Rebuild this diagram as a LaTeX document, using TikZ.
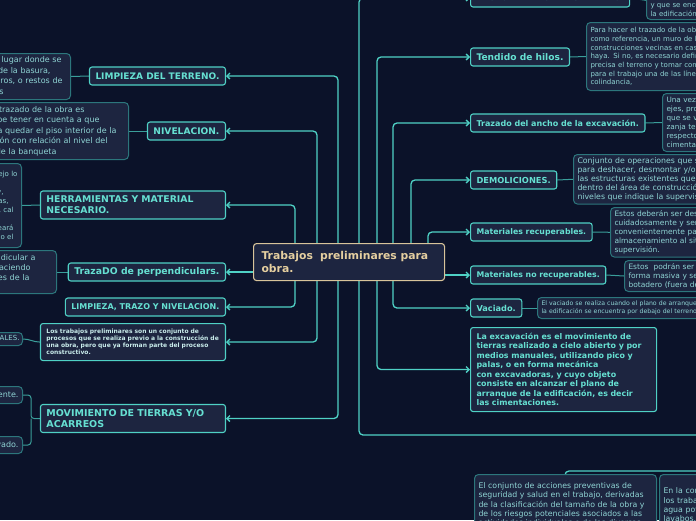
\documentclass[tikz,border=0pt]{standalone}
\usepackage{fontspec}
\setmainfont{DejaVu Sans}
\usetikzlibrary{arrows.meta}
\definecolor{bgc}{RGB}{11,18,41}
\definecolor{nodeF}{RGB}{29,37,64}
\definecolor{tealB}{RGB}{79,209,197}
\definecolor{tealT}{RGB}{102,224,210}
\definecolor{tealD}{RGB}{44,118,124}
\definecolor{tealC}{RGB}{58,158,154}
\definecolor{descT}{RGB}{143,212,212}
\definecolor{paleT}{RGB}{201,236,235}
\definecolor{centB}{RGB}{216,196,154}
\definecolor{centT}{RGB}{229,207,160}
\newcommand{\RL}[2]{\makebox[#1pt][r]{#2}}
\newcommand{\fsz}[2]{\fontsize{#1}{#2}\selectfont}
\pgfdeclarelayer{bgl}
\pgfdeclarelayer{back}
\pgfsetlayers{bgl,back,main}
\begin{document}
\begin{tikzpicture}[x=1pt,y=-1pt,
  main/.style={draw=tealB, fill=nodeF, rounded corners=2.5pt, line width=1.1pt, text=tealT,
    font=\bfseries\fsz{8}{10}, inner xsep=6pt, inner ysep=2pt, minimum height=18pt, align=left},
  desc/.style={draw=tealD, fill=nodeF, rounded corners=4pt, line width=1pt, text=descT,
    font=\fsz{7}{9}, inner xsep=4pt, inner ysep=3pt, align=left},
  cent/.style={draw=centB, fill=nodeF, rounded corners=3pt, line width=1.1pt, text=centT,
    font=\bfseries\fsz{10.8}{13.5}, inner xsep=8pt, align=left},
  conn/.style={draw=tealB, line width=1.3pt, rounded corners=4pt, -{Straight Barb[length=3pt,width=6pt]}},
  dconn/.style={draw=tealC, line width=1pt, rounded corners=3pt}]
\begin{pgfonlayer}{bgl}
\fill[bgc] (0,0) rectangle (696,520);
\end{pgfonlayer}
\useasboundingbox (0,0) rectangle (696,520);
\clip (0,0) rectangle (696,520);

% central node
\node[cent, anchor=north west, text width=175pt, minimum height=37pt, minimum width=191pt] (c) at (253,243)
  {Trabajos~ preliminares para\\obra.};

% left main nodes
\node[main, anchor=east, font=\bfseries\fsz{9}{11}] (n1) at (226,76) {LIMPIEZA DEL TERRENO.};
\node[main, anchor=east, font=\bfseries\fsz{9.1}{11}] (n2) at (226,131) {NIVELACION.};
\node[main, anchor=east, text width=173pt, minimum height=28pt, font=\bfseries\fsz{9.3}{11}] (n3) at (226,205) {HERRAMIENTAS Y MATERIAL\\NECESARIO.};
\node[main, anchor=east, font=\bfseries\fsz{9.3}{11}] (n4) at (226,272) {TrazaDO de perpendiculars.};
\node[main, anchor=east] (n5) at (226,307) {LIMPIEZA, TRAZO Y NIVELACION.};
\node[main, anchor=north east, text width=173pt, minimum height=37pt, text=paleT,
  font=\bfseries\fsz{6}{7}] (n6) at (226,323)
  {Los trabajos preliminares son un conjunto de\\procesos que se realiza previo a la construcción de\\una obra, pero que ya forman parte del proceso\\constructivo.};
\node[main, anchor=east, text width=173pt, minimum height=28pt, font=\bfseries\fsz{9.5}{11}] (n7) at (226,418.5) {MOVIMIENTO DE TIERRAS Y/O\\ACARREOS};

% left descriptions
\node[desc, anchor=north east, text width=180pt, minimum height=46pt, font=\fsz{8}{10.5}] (d1) at (71,53)
  {\RL{175}{Se debe limpiar el lugar donde se}\\\RL{164}{construirá, retirándose de la basura,}\\\RL{176}{hierbas, escombros, o restos de}\\\RL{117}{construcciones viejas}};
\node[desc, anchor=north east, text width=200pt, minimum height=57pt, font=\fsz{8}{10.5}] (d2) at (129,102)
  {\RL{160}{Antes de iniciar el trazado de la obra es}\\\RL{175}{importante, se debe tener en cuenta a que}\\\RL{192}{nivel va a quedar el piso interior de la}\\\RL{183}{construcción con relación al nivel del}\\\RL{132}{arroyo o de la banqueta}};
\node[desc, anchor=north east, text width=160pt, minimum height=84pt] (d3) at (22,163)
  {\RL{160}{En cuanto a su manejo lo}\\\RL{137}{necesario será: palas, picos,}\\\RL{146}{carretillas, mazos, hilo, clavos y,}\\\RL{151}{estacas, crucetas, reglas,}\\\RL{156}{niveles, cinta, escuadras, cal}\\\RL{137}{y agua. Para el trazo}\\\RL{156}{también se empleará}\\\RL{156}{un teodolito o el}};
\node[desc, anchor=north east, text width=180pt, minimum height=43pt, font=\fsz{8}{10}] (d4) at (57,250)
  {\RL{163}{Se traza una línea perpendicular a}\\\RL{158}{la línea de referencia haciendo}\\\RL{157}{coincidir las intersecciones de la}\\\RL{117}{cuadrícula}};
\node[desc, anchor=east, minimum height=13pt, inner ysep=1pt, inner xsep=3pt] (d6) at (23,339) {TRABAJOS INICIALES.};
\node[desc, anchor=east, minimum height=17pt, inner xsep=4pt, font=\fsz{8}{10}] (d7a) at (23,395) {Acarreo de material excedente.};
\node[desc, anchor=east, minimum height=17pt, inner xsep=4pt, font=\fsz{8}{10}] (d7b) at (23,445) {Acarreo de material excavado.};

% right main nodes
\node[main, anchor=west] (r0) at (470,-2) {HECHURA DE PUENTES Y TRAZO.};
\node[main, anchor=west, font=\bfseries\fsz{9.1}{11}] (r1) at (470,57) {Tendido de hilos.};
\node[main, anchor=west] (r2) at (470,123) {Trazado del ancho de la excavación.};
\node[main, anchor=west, font=\bfseries\fsz{8.3}{10}] (r3) at (470,180) {DEMOLICIONES.};
\node[main, anchor=west, font=\bfseries\fsz{7.8}{10}] (r4) at (470,232) {Materiales recuperables.};
\node[main, anchor=west, font=\bfseries\fsz{7.8}{10}] (r5) at (470,275) {Materiales no recuperables.};
\node[main, anchor=west, font=\bfseries\fsz{8.2}{10}] (r6) at (470,308) {Vaciado.};
\node[main, anchor=north west, text width=174pt, minimum height=84pt,
  font=\bfseries\fsz{7.9}{9.5}] (r7) at (470,327)
  {La excavación es el movimiento de\\tierras realizado a cielo abierto y por\\medios manuales, utilizando pico y\\palas, o en forma mecánica\\con excavadoras, y cuyo objeto\\consiste en alcanzar el plano de\\arranque de la edificación, es decir\\las cimentaciones.};

% right descriptions
\node[desc, anchor=south west, text width=200pt] (e0) at (646,20)
  {Se construyen puentes de madera\\alrededor del área de la obra\\y que se encuentran fuera de\\la edificación.};
\node[desc, anchor=north west, text width=220pt, minimum height=68pt, font=\fsz{7}{8.7}] (e1) at (586,22)
  {Para hacer el trazado de la obra se toma\\como referencia, un muro de las\\construcciones vecinas en caso de que las\\haya. Si no, es necesario definir con\\precisa el terreno y tomar como base\\para el trabajo una de las líneas de\\colindancia,};
\node[desc, anchor=north west, text width=200pt, minimum height=58pt, font=\fsz{7.3}{9}] (e2) at (662,93)
  {Una vez trazados los\\ejes, procedemos a marcar\\que se va a excavar; la\\zanja tendrá un ancho\\respecto al eje de la\\cimentación.};
\node[desc, anchor=north west, text width=240pt, minimum height=49pt, font=\fsz{7.8}{9}] (e3) at (573,154)
  {Conjunto de operaciones que se realizan\\para deshacer, desmontar y/o demoler\\las estructuras existentes que se encuentren\\dentro del área de construcción, hasta los\\niveles que indique la supervisión.};
\node[desc, anchor=north west, text width=220pt, minimum height=48pt, font=\fsz{7.5}{9}] (e4) at (610,207)
  {Estos deberán ser desmontados\\cuidadosamente y serán trasladados\\convenientemente para su\\almacenamiento al sitio que indique la\\supervisión.};
\node[desc, anchor=north west, text width=220pt, minimum height=31pt, font=\fsz{7.5}{9}] (e5) at (624,260)
  {Estos~ podrán ser demolidos en\\forma masiva y serán llevados al\\botadero (fuera de la obra).};
\node[desc, anchor=north west, text width=240pt, minimum height=21pt, inner ysep=2pt, font=\fsz{6.2}{8.5}] (e6) at (537,297)
  {El vaciado se realiza cuando el plano de arranque de\\la edificación se encuentra por debajo del terreno.};

% bottom boxes
\node[desc, anchor=north west, text width=174pt, minimum height=70pt, font=\fsz{7.8}{9.3}] (bA) at (474,474)
  {El conjunto de acciones preventivas de\\seguridad y salud en el trabajo, derivadas\\de la clasificación del tamaño de la obra y\\de los riesgos potenciales asociados a las\\actividades individuales o de las diversas\\etapas de la obra.};
\node[desc, anchor=north west, text width=174pt, minimum height=70pt, font=\fsz{7.8}{9.3}] (bB) at (659,474)
  {En la construcción\\los trabajadores deben contar con\\agua potable,\\lavabos, regaderas\\otros servicios.};

% junctions
\coordinate (jA) at (338,262);
\coordinate (jB) at (317,262);
\coordinate (jC) at (295,262);
\coordinate (kA) at (359,262);
\coordinate (kB) at (377,262);
\coordinate (kC) at (393,262);
\coordinate (kD) at (411,262);
\coordinate (kE) at (428,262);
\coordinate (offR) at (700,435);
\coordinate (bj) at (565,490);
\coordinate (bR) at (700,471);
\coordinate (jm) at (31,418.5);

\begin{pgfonlayer}{back}
\draw[conn] (jA) |- (n1.east);
\draw[conn] (jA) |- (n7.east);
\draw[conn] (jB) |- (n2.east);
\draw[conn] (jB) |- (n6.east);
\draw[conn] (jC) |- (n3.east);
\draw[conn] (jC) |- (n5.east);
\draw[conn] (c.west |- n4.east) -- (n4.east);
\draw[conn] (kA) |- (r0.west);
\draw[conn, -] (kA) |- (offR);
\draw[conn] (kB) |- (r1.west);
\draw[conn] (kB) |- (r7.west);
\draw[conn] (kC) |- (r2.west);
\draw[conn] (kC) |- (r6.west);
\draw[conn] (kD) |- (r3.west);
\draw[conn] (kE) |- (r4.west);
\draw[conn] (c.east |- r5.west) -- (r5.west);
\draw[conn, -] (bj) |- (bR);
% description links
\draw[dconn] (n1.west) -- (d1.east);
\draw[dconn] (n2.west) -- (d2.east);
\draw[dconn] (n3.west) -- (d3.east);
\draw[dconn] (n4.west) -- (d4.east);
\draw[dconn] (n6.west) to[out=180,in=0] (d6.east);
\draw[dconn] (n7.west) -- (jm) |- (d7a.east);
\draw[dconn] (jm) |- (d7b.east);
\draw[dconn] (r0.east) -- (e0.west);
\draw[dconn] (r1.east) -- (e1.west);
\draw[dconn] (r2.east) -- (e2.west);
\draw[dconn] (r3.east) -- (e3.west);
\draw[dconn] (r4.east) -- (e4.west);
\draw[dconn] (r5.east) -- (e5.west);
\draw[dconn] (r6.east) -- (e6.west);
\end{pgfonlayer}
\end{tikzpicture}
\end{document}
